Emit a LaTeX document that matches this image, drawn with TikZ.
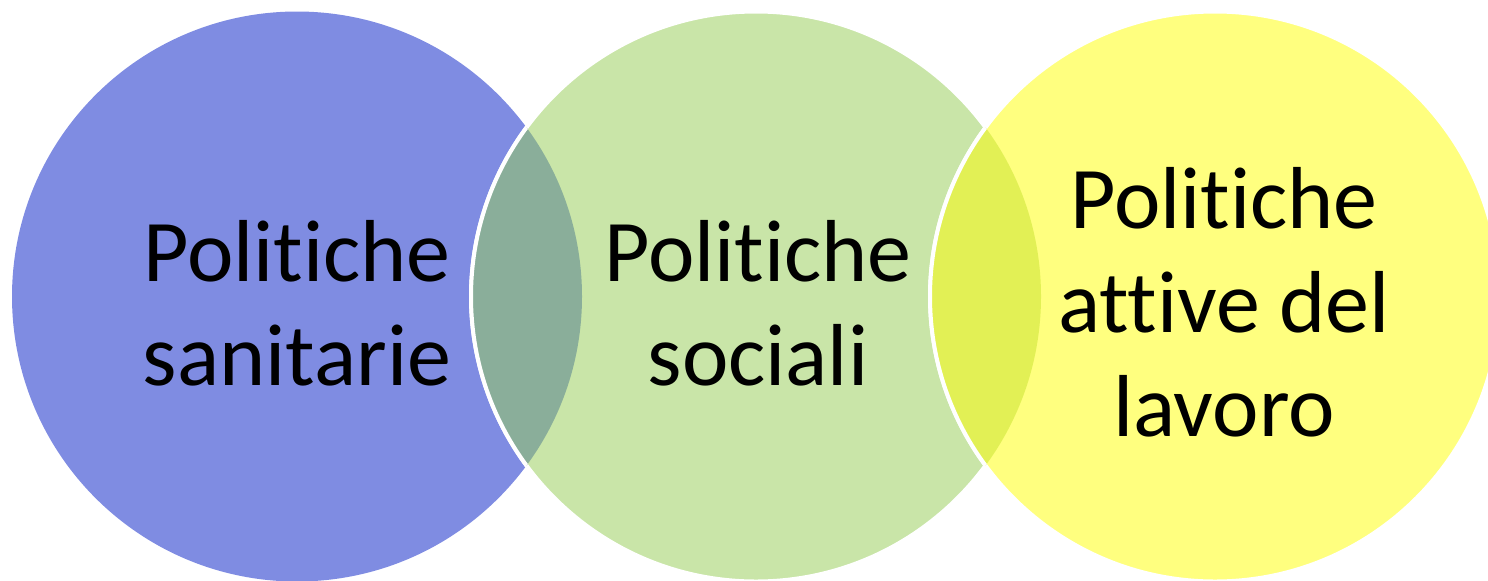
\documentclass[tikz,border=0pt]{standalone}
\usepackage{fontspec}
\setmainfont{Carlito}[Ligatures=NoCommon]
\definecolor{sanblue}{HTML}{7F8CE2}
\definecolor{socgreen}{HTML}{C9E5A8}
\definecolor{lavyellow}{HTML}{FFFF7F}
\definecolor{sanoverlap}{HTML}{8AAE9A}
\definecolor{lavoverlap}{HTML}{E2F055}
\tikzset{
  vennedge/.style={draw=white, line width=2pt},
  lbl/.style={font=\fontsize{44}{52}\selectfont, align=center, text=black, inner sep=0pt, anchor=base}
}
\begin{document}
\begin{tikzpicture}[x=0.5pt,y=-0.5pt]
\useasboundingbox (0,0) rectangle (1488,580);
\coordinate (san) at (297,296.5);
\coordinate (soc) at (756,296.5);
\coordinate (lav) at (1215,296.5);
% circles
\fill[sanblue] (san) circle[radius=142.5pt];
\path[fill=socgreen, vennedge] (soc) circle[radius=142.5pt];
\path[fill=lavyellow, vennedge] (lav) circle[radius=142.5pt];
% overlaps
\begin{scope}
\clip (san) circle[radius=142.5pt];
\path[fill=sanoverlap, vennedge] (soc) circle[radius=142.5pt];
\end{scope}
\begin{scope}
\clip (soc) circle[radius=142.5pt];
\path[fill=lavoverlap, vennedge] (lav) circle[radius=142.5pt];
\end{scope}
% labels (base = last line)
\node[lbl] (sanlbl) at (297,385) {Politiche\\sanitarie};
\node[lbl] (soclbl) at (758,385) {Politiche\\sociali};
\node[lbl] (lavlbl) at (1224,436) {Politiche\\attive del\\lavoro};
\end{tikzpicture}
\end{document}
